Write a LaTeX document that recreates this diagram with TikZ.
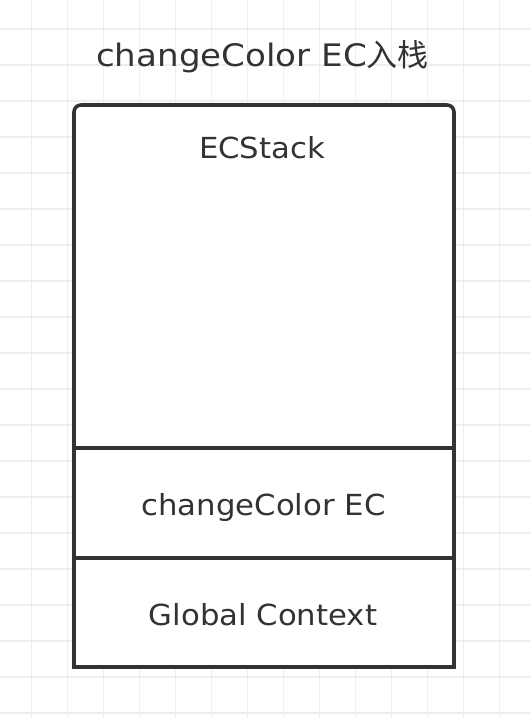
\documentclass[tikz,border=0pt]{standalone}
\usepackage{fontspec}
\setmainfont{DejaVu Sans}
\newfontfamily\bodyfont[FakeStretch=1.06]{DejaVu Sans}
\newfontfamily\titlefont[FakeStretch=1.1]{DejaVu Sans}
\newfontfamily\cjk{Noto Sans CJK SC}
\definecolor{ink}{HTML}{333333}
\definecolor{gridc}{HTML}{EEEEEE}
\tikzset{
  gridline/.style={draw=gridc, line width=1.3pt},
  frame/.style={draw=ink, line width=3.6pt},
  label/.style={text=ink, font=\bodyfont\fontsize{29}{31}\selectfont, inner sep=0pt, anchor=base},
  titlelabel/.style={text=ink, font=\titlefont\fontsize{31}{33}\selectfont, inner sep=0pt, anchor=base},
}
\begin{document}
\begin{tikzpicture}[x=1pt,y=-1pt]
\useasboundingbox (0,0) rectangle (530,718);
\fill[white] (0,0) rectangle (530,718);
\foreach \k in {0,...,13} \draw[gridline] ({31.5+36*\k},0) -- ({31.5+36*\k},718);
\foreach \k in {0,...,19} \draw[gridline] (0,{29+36*\k}) -- (530,{29+36*\k});
% box
\fill[white] (74,105) rectangle (454,667);
\draw[frame, line join=miter] (74,448) -- (74,667) -- (454,667) -- (454,448);
\draw[frame, rounded corners=7pt] (74,449) -- (74,105) -- (454,105) -- (454,449);
\coordinate (d1l) at (74,448); \coordinate (d1r) at (454,448);
\coordinate (d2l) at (74,558); \coordinate (d2r) at (454,558);
\draw[frame] (d1l) -- (d1r);
\draw[frame] (d2l) -- (d2r);
\node[titlelabel] (title) at (262.5,66) {changeColor EC{\cjk 入栈}};
\node[label] (stack) at (262,158) {ECStack};
\node[label] (cc) at (263.5,515) {changeColor EC};
\node[label] (gc) at (263,625) {Global Context};
\end{tikzpicture}
\end{document}
